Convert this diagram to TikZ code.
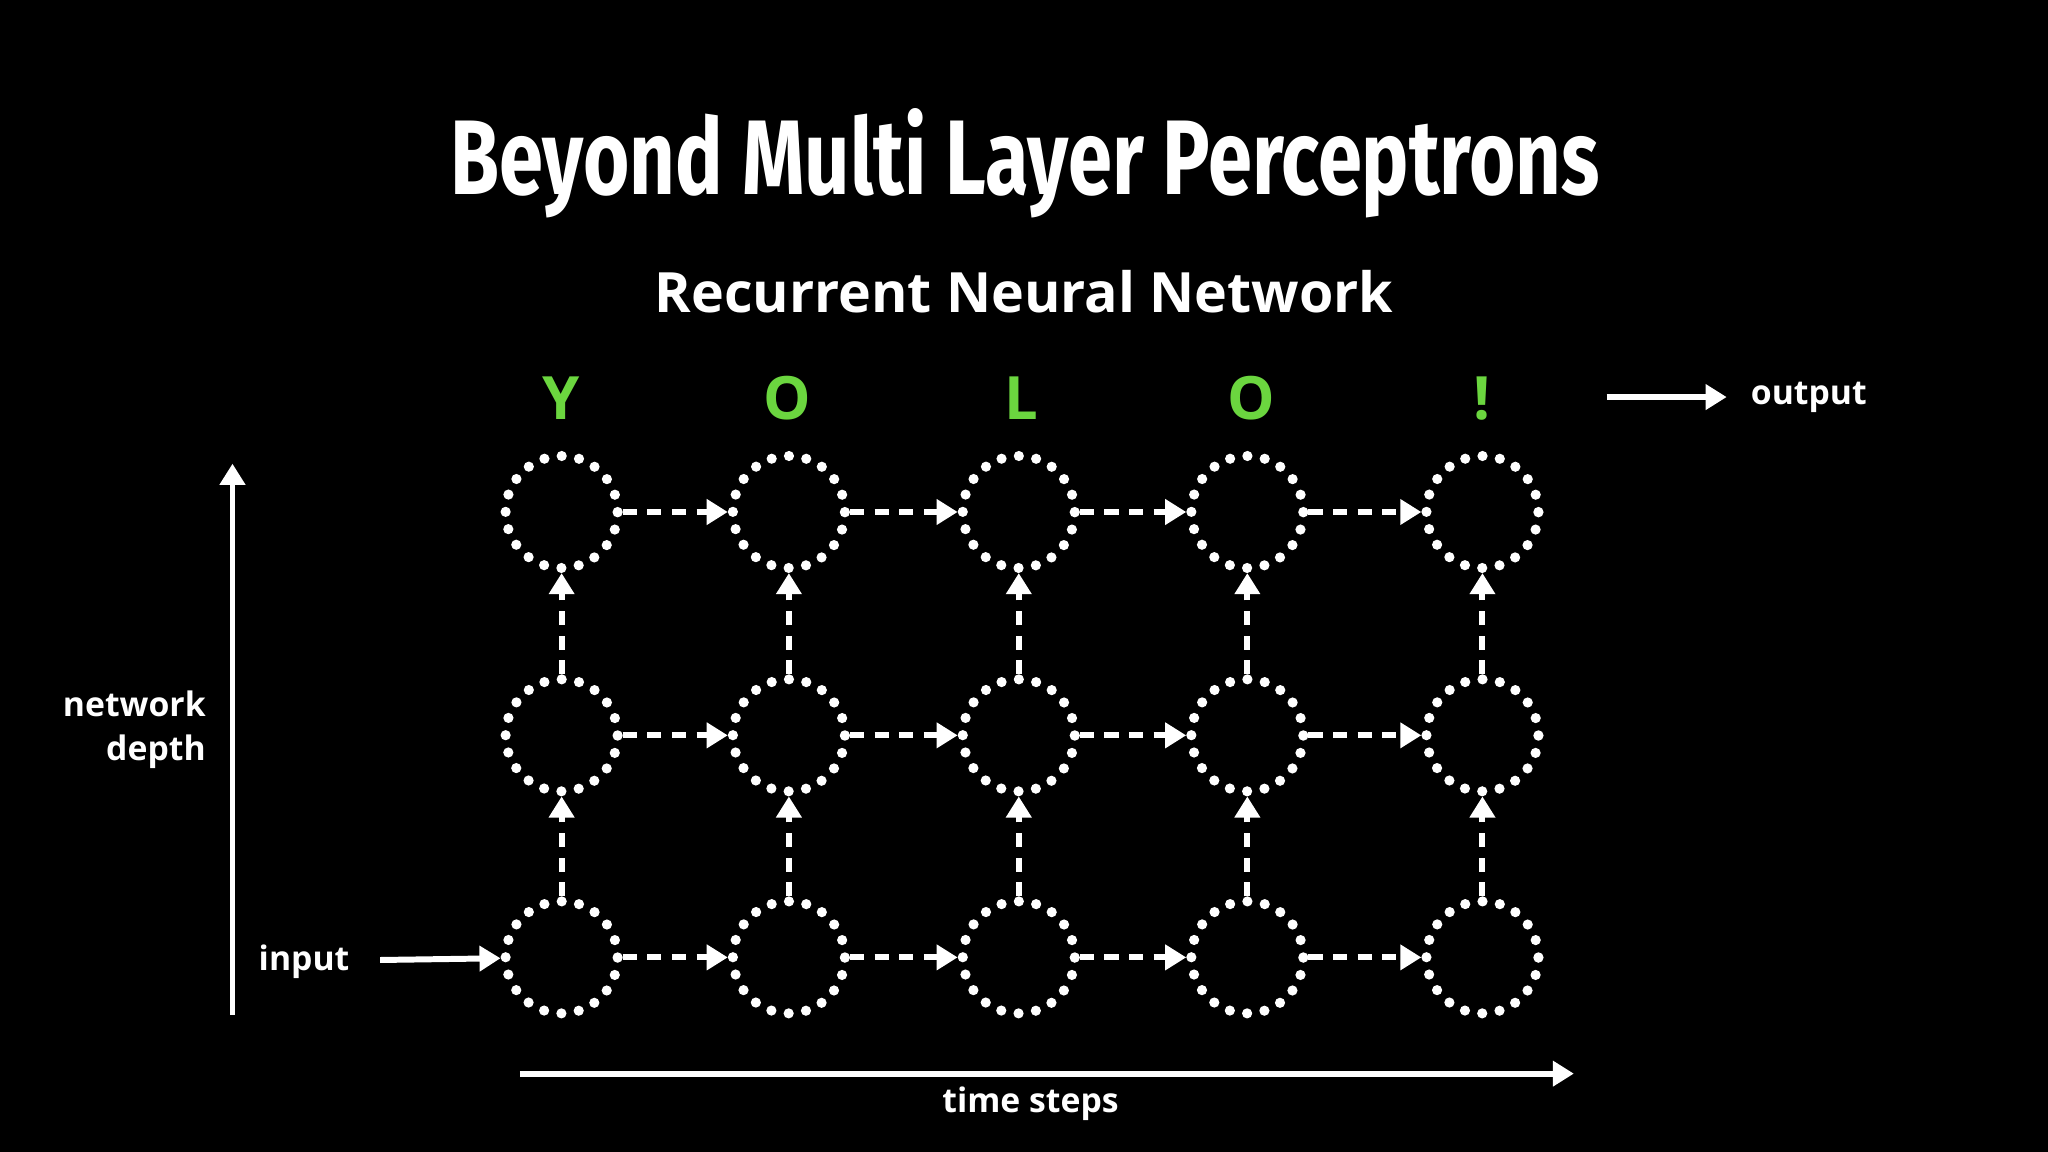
\documentclass[tikz,border=0pt]{standalone}
\usepackage{fontspec}
\setmainfont{Open Sans}
\newfontfamily\titlefont[FakeStretch=0.78]{Fira Sans}
\usetikzlibrary{arrows.meta}
\definecolor{ygreen}{HTML}{6BD63F}
\begin{document}
\begin{tikzpicture}[x=0.013061cm,y=-0.013061cm,
  cell/.style={circle,draw=white,line width=2.9pt,dash pattern=on 0pt off 5pt,line cap=round,minimum size=1.12cm,inner sep=0pt},
  rarr/.style={draw=white,line width=1.7pt,dash pattern=on 4pt off 3pt,-{Triangle[length=6pt,width=7pt]}},
  solidarr/.style={draw=white,line width=1.7pt,-{Triangle[length=6pt,width=7pt]}},
  lab/.style={text=white,font=\bfseries\fontsize{9.6}{12}\selectfont},
  letter/.style={text=ygreen,font=\bfseries\fontsize{17}{20}\selectfont}]
\fill[black] (0,0) rectangle (1568,882);
\node[text=white,inner sep=0pt] (title) at (785,125) {\resizebox{11.49cm}{0.86cm}{\titlefont\bfseries Beyond Multi Layer Perceptrons}};
\node[text=white,font=\bfseries\fontsize{15.8}{20}\selectfont] (sub) at (784,223) {Recurrent Neural Network};
\foreach \x/\t [count=\i] in {430/Y,603/O,782/L,958/O,1135/!}
  \node[letter] (l\i) at (\x,305) {\t};
\foreach \x [count=\i] in {430,604,780,955,1135}{
  \node[cell] (c3\i) at (\x,392) {};
  \node[cell] (c2\i) at (\x,563) {};
  \node[cell] (c1\i) at (\x,733) {};
}
\foreach \r in {1,2,3}{
  \foreach \i [evaluate=\i as \j using int(\i+1)] in {1,2,3,4}
    \draw[rarr] (c\r\i) -- (c\r\j);
}
\foreach \i in {1,...,5}{
  \draw[rarr] (c1\i) -- (c2\i);
  \draw[rarr] (c2\i) -- (c3\i);
}
\coordinate (vb) at (178,777); \coordinate (vt) at (178,355);
\draw[solidarr] (vb) -- (vt);
\coordinate (hb) at (398,822); \coordinate (ht) at (1205,822);
\draw[solidarr] (hb) -- (ht);
\coordinate (ob) at (1230,304); \coordinate (ot) at (1322,304);
\draw[solidarr] (ob) -- (ot);
\coordinate (ib) at (291,735);
\draw[solidarr] (ib) -- (c11);
\node[lab,anchor=west] (out) at (1331,304) {output};
\node[lab,anchor=east] (inp) at (277,736) {input};
\node[lab,anchor=east,align=right] (nd) at (167,559) {network\\[0.5pt]depth};
\node[lab] (ts) at (789,845) {time steps};
\end{tikzpicture}
\end{document}
